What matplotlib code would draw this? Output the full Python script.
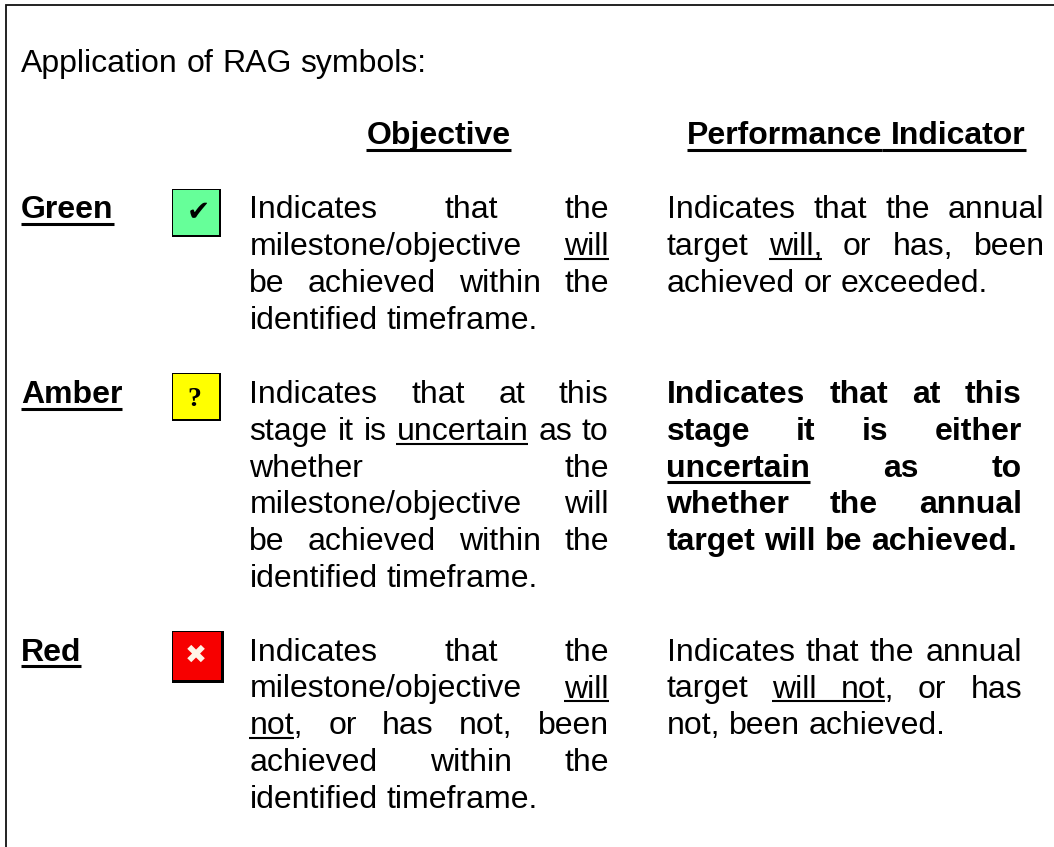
import matplotlib
matplotlib.use('Agg')
import matplotlib.pyplot as plt
from matplotlib.patches import Rectangle

plt.rcParams['font.family'] = ['Liberation Sans', 'DejaVu Sans']

title = 'Application of RAG symbols:'
rag_names = ['Green', 'Amber', 'Red']
rag_colors = ['#66ff99', '#ffff00', '#f70000']
rag_marks = ['\u2714', '?', '\u2716']
mark_colors = ['black', 'black', '#fff4e6']

# _word_ means underlined, last line of each cell is not justified
objective = [
    ['Indicates that the', 'milestone/objective _will_', 'be achieved within the', 'identified timeframe.'],
    ['Indicates that at this', 'stage it is _uncertain_ as to', 'whether the', 'milestone/objective will',
     'be achieved within the', 'identified timeframe.'],
    ['Indicates that the', 'milestone/objective _will_', '_not_, or has not, been', 'achieved within the',
     'identified timeframe.'],
]
indicator = [
    ['Indicates that the annual', 'target _will,_ or has, been', 'achieved or exceeded.'],
    ['Indicates that at this', 'stage it is either', '_uncertain_ as to', 'whether the annual',
     'target will be achieved.'],
    ['Indicates that the annual', 'target _will_ _not_, or has', 'not, been achieved.'],
]

FS = 23
LINE = 36.8
row_base = [218.5, 403, 660.7]
col1_x, col1_r = 249.4, 608.7
col2_x = 666.5
col2_r = [1044.6, 1022, 1022]
icons = [(172.4, 189.3, 221, 237.3), (172.4, 373.3, 221, 421.5), (172.4, 631.3, 223.7, 682.7)]
mark_pos = [(198, 212), (194.5, 399), (196, 656)]
mark_size = [20, 20, 19]

fig = plt.figure(figsize=(10.54, 8.47), dpi=100)
ax = fig.add_axes([0, 0, 1, 1])
ax.set_xlim(0, 1054)
ax.set_ylim(847, 0)
ax.axis('off')
rend = fig.canvas.get_renderer()


def width(s, weight='normal'):
    t = ax.text(0, 0, s, fontsize=FS, fontweight=weight)
    w = t.get_window_extent(rend).width
    t.remove()
    return w


def uline(x0, x1, y, bold=False):
    ax.plot([x0, x1], [y + (5.7 if bold else 3.8)] * 2, color='black',
            lw=2.2 if bold else 1.5, solid_capstyle='butt')


def put_line(line, x, y, right=None, weight='normal'):
    words = line.split(' ')
    clean = [w.replace('_', '') for w in words]
    widths = [width(w, weight) for w in clean]
    if right is None or len(words) == 1:
        gap = width('a a', weight) - 2 * width('a', weight)
    else:
        gap = (right - x - sum(widths)) / (len(words) - 1)
    prev_end = None
    for w, c, wd in zip(words, clean, widths):
        ax.text(x, y, c, fontsize=FS, fontweight=weight, va='baseline', color='black')
        if w.startswith('_'):
            # only the part between the underscores gets the line
            under = width(w[1:w.index('_', 1)], weight)
            start = prev_end if prev_end is not None else x
            uline(start, x + under, y, weight == 'bold')
            prev_end = x + under if w.endswith('_') else None
        else:
            prev_end = None
        x += wd + gap


def put_cell(lines, x, y, right, weight='normal'):
    for i, line in enumerate(lines):
        r = right if i < len(lines) - 1 else None
        put_line(line, x, y + i * LINE, r, weight)


# frame, only top and left are there
ax.plot([6.4, 6.4, 1054], [847, 4.7, 4.7], color='#111111', lw=1.3, solid_joinstyle='miter')

put_line(title, 21, 71.7)
put_line('_Objective_', 366.4, 144.3, weight='bold')
put_line('_Performance_ _Indicator_', 686.7, 144.3, weight='bold')

for i, name in enumerate(rag_names):
    y = row_base[i]
    put_line('_' + name + '_', 21, y, weight='bold')
    x0, y0, x1, y1 = icons[i]
    ax.add_patch(Rectangle((x0, y0), x1 - x0, y1 - y0, fc='black', ec='none'))
    ax.add_patch(Rectangle((x0 + 1, y0 + 1), x1 - x0 - 3.5, y1 - y0 - 3.5, fc=rag_colors[i], ec='none'))
    mx, my = mark_pos[i]
    if i == 1:
        ax.text(mx, my, rag_marks[i], fontsize=mark_size[i], family='Liberation Serif', fontweight='bold',
                ha='center', va='center', color=mark_colors[i])
    else:
        ax.text(mx, my, rag_marks[i], fontsize=mark_size[i], family='DejaVu Sans',
                ha='center', va='center', color=mark_colors[i])
    put_cell(objective[i], col1_x, y, col1_r)
    put_cell(indicator[i], col2_x, y, col2_r[i], 'bold' if i == 1 else 'normal')

fig.savefig('out.png', dpi=100)
